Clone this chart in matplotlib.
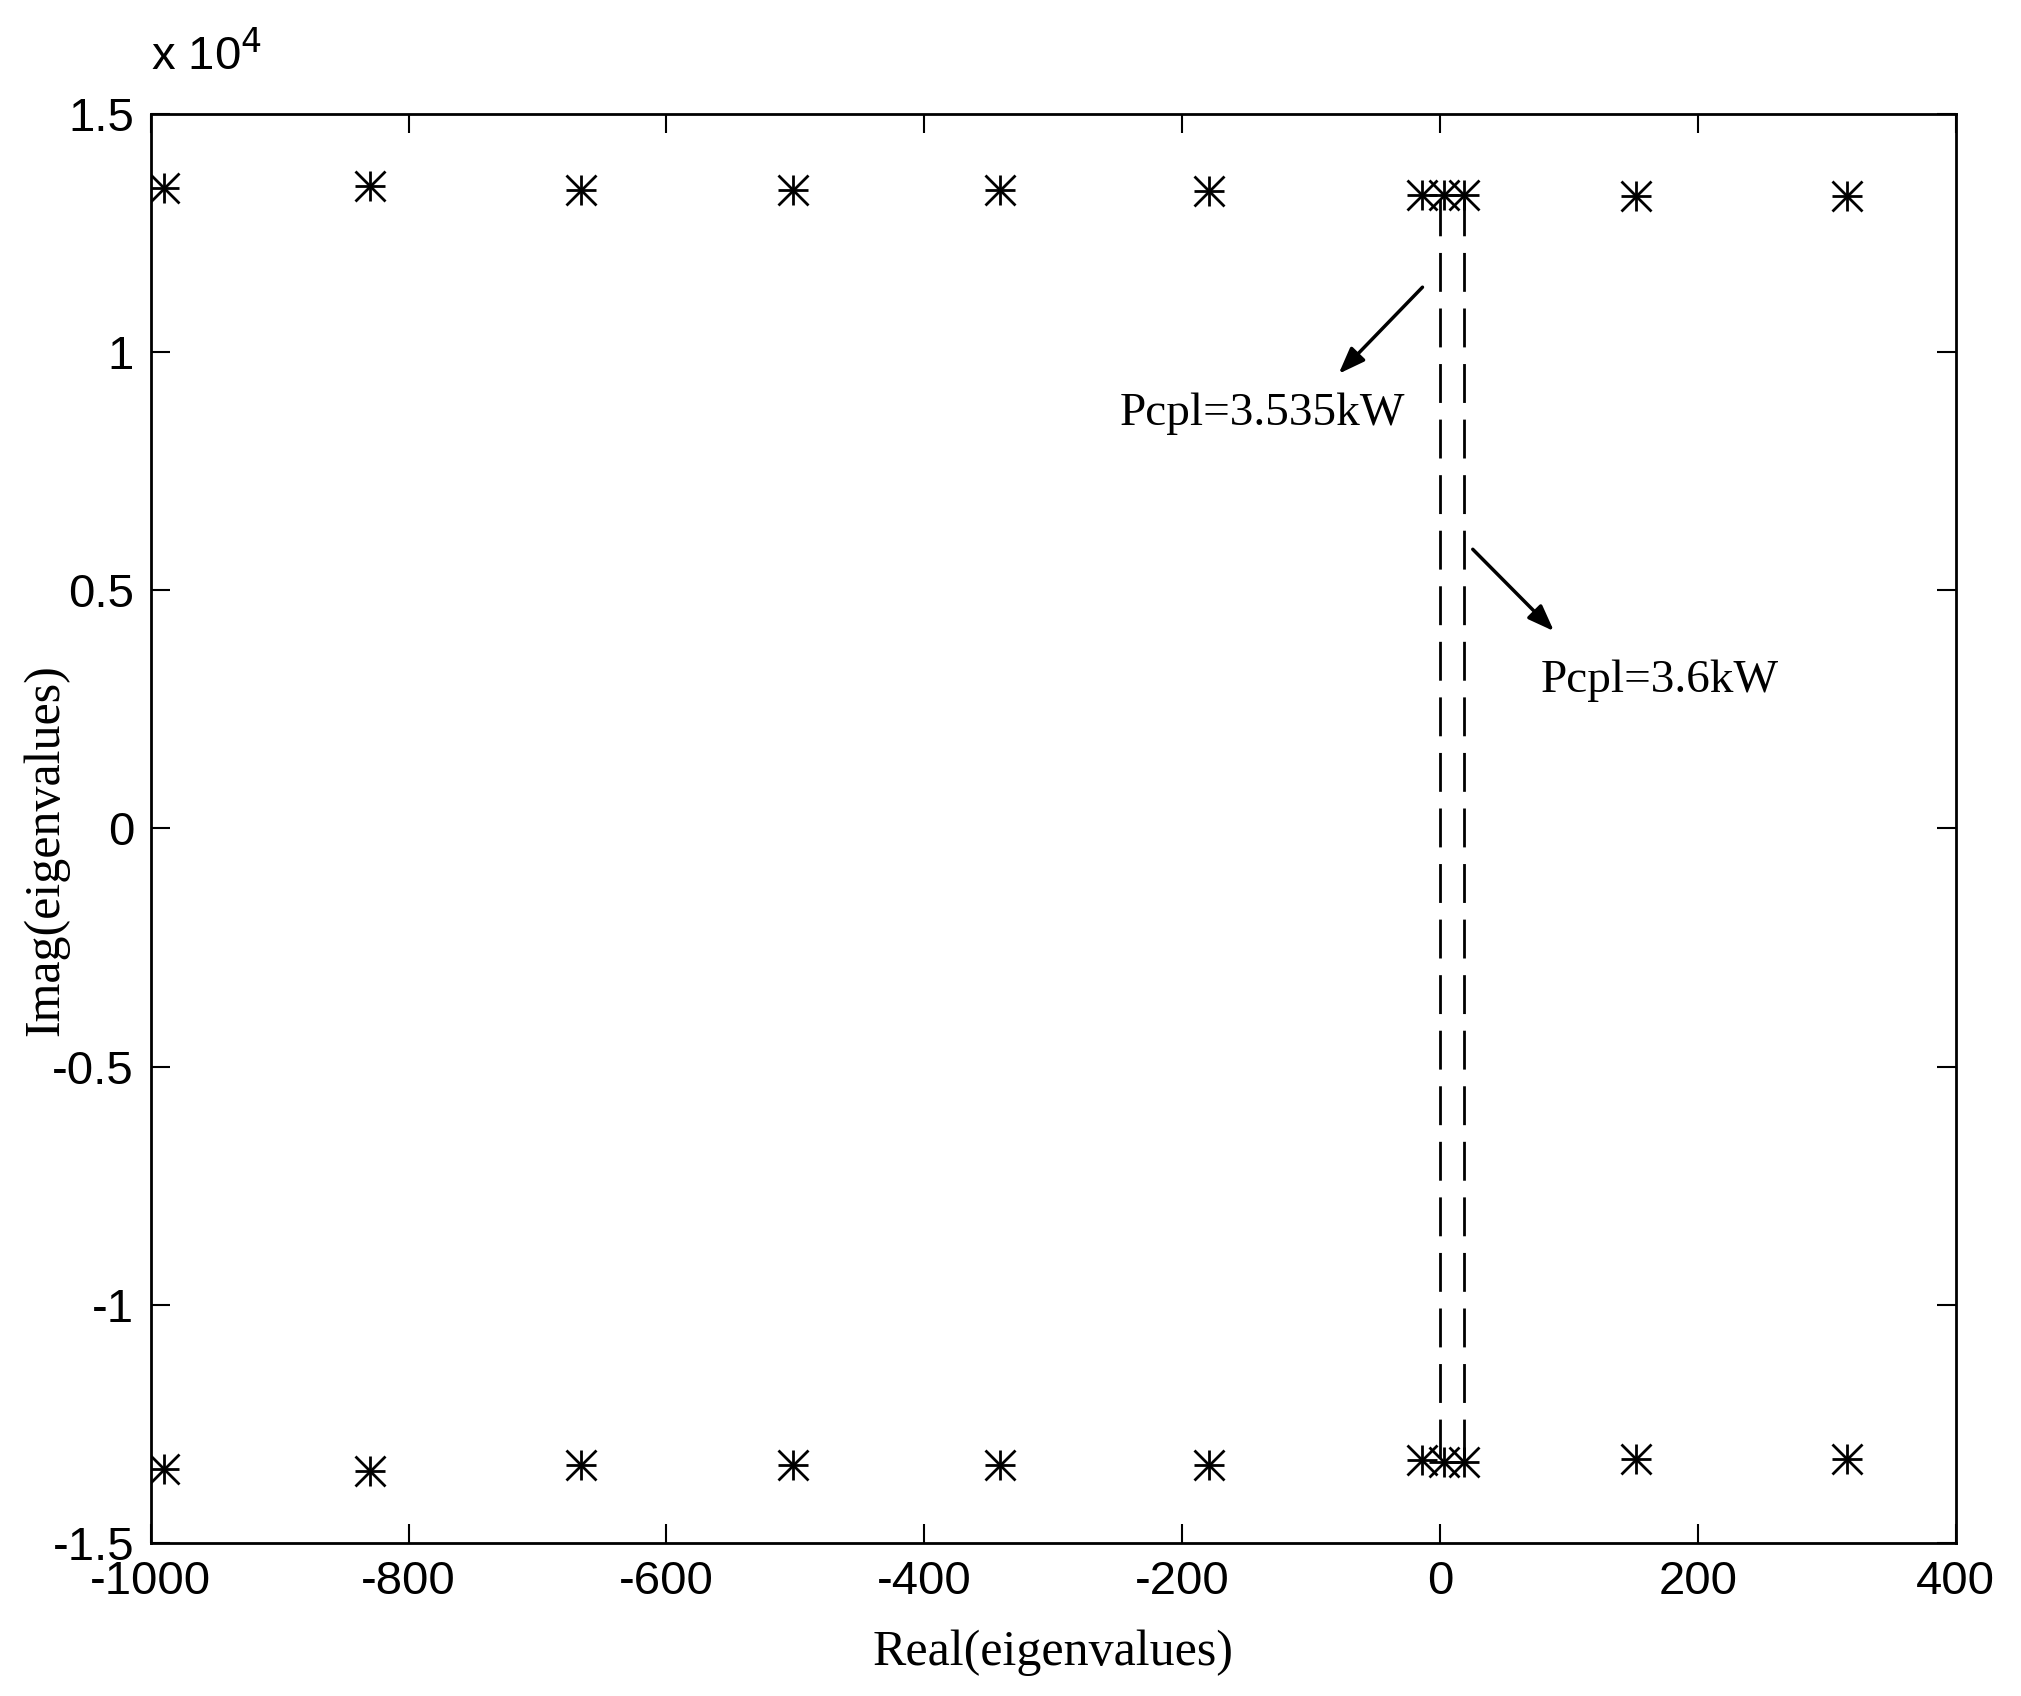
import matplotlib.pyplot as plt

plt.rcParams['axes.unicode_minus'] = False

re_top = [-990, -830, -666, -502, -341, -179, -14, 3, 19, 152, 316]
im_top = [13450, 13480, 13400, 13400, 13400, 13380, 13300, 13300, 13300, 13280, 13280]
re_bot = [-990, -830, -666, -502, -341, -179, -14, 3, 19, 152, 316]
im_bot = [-13450, -13480, -13360, -13360, -13360, -13360, -13260, -13300, -13300, -13240, -13240]

fig = plt.figure(figsize=(20.21, 16.96), dpi=100)
ax = fig.add_axes([0.0746, 0.09, 0.893, 0.843])
for m in ['+', 'x']:
    ax.plot(re_top, im_top, linestyle='none', marker=m, color='k', markersize=22, markeredgewidth=2)
    ax.plot(re_bot, im_bot, linestyle='none', marker=m, color='k', markersize=22, markeredgewidth=2)

ax.plot([0, 0], [-13200, 13200], 'k--', lw=2, dashes=(14, 6))
ax.plot([19, 19], [-13200, 13200], 'k--', lw=2, dashes=(14, 6))

ax.annotate('', xy=(-80, 9500), xytext=(-12, 11400),
            arrowprops=dict(arrowstyle='-|>,head_width=0.6,head_length=1.6', color='k', lw=2.5))
ax.text(-248, 8700, 'Pcpl=3.535kW', fontsize=34, family='Liberation Serif', va='center')
ax.annotate('', xy=(90, 4100), xytext=(24, 5900),
            arrowprops=dict(arrowstyle='-|>,head_width=0.6,head_length=1.6', color='k', lw=2.5))
ax.text(78, 3100, 'Pcpl=3.6kW', fontsize=34, family='Liberation Serif', va='center')

ax.set_xlim(-1000, 400)
ax.set_ylim(-15000, 15000)
ax.set_xticks(range(-1000, 401, 200))
ax.set_yticks([-15000, -10000, -5000, 0, 5000, 10000, 15000])
ax.set_yticklabels(['-1.5', '-1', '-0.5', '0', '0.5', '1', '1.5'])
ax.tick_params(direction='in', length=14, width=1.5, labelsize=34, top=True, right=True, pad=12)
for lab in ax.get_xticklabels() + ax.get_yticklabels():
    lab.set_family('Liberation Sans')
for s in ax.spines.values():
    s.set_linewidth(2)
ax.text(-1000, 15700, r'x 10$^4$', fontsize=34, family='Liberation Sans', va='bottom')
ax.set_xlabel('Real(eigenvalues)', fontsize=36, family='Liberation Serif', labelpad=18)
ax.set_ylabel('Imag(eigenvalues)', fontsize=36, family='Liberation Serif')
ax.yaxis.set_label_coords(-0.045, 0.485)

fig.savefig('out.png', dpi=100)
